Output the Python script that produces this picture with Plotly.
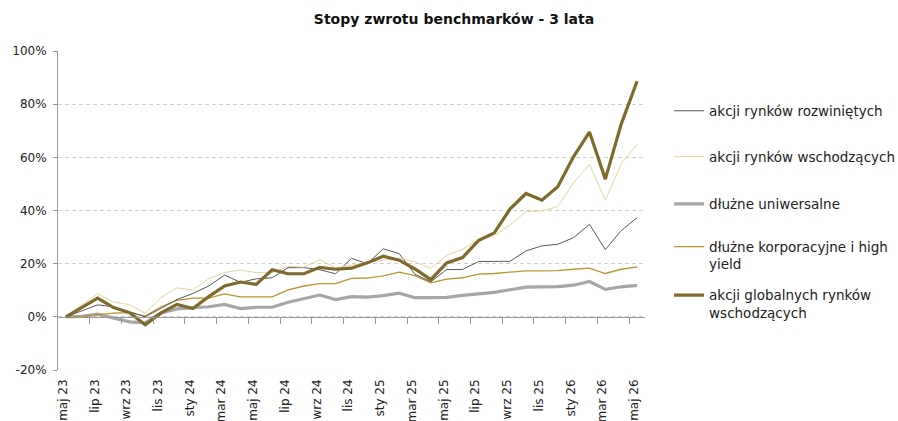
import plotly.graph_objects as go

months = ["maj 23", "cze 23", "lip 23", "sie 23", "wrz 23", "paź 23", "lis 23", "gru 23",
          "sty 24", "lut 24", "mar 24", "kwi 24", "maj 24", "cze 24", "lip 24", "sie 24",
          "wrz 24", "paź 24", "lis 24", "gru 24", "sty 25", "lut 25", "mar 25", "kwi 25",
          "maj 25", "cze 25", "lip 25", "sie 25", "wrz 25", "paź 25", "lis 25", "gru 25",
          "sty 26", "lut 26", "mar 26", "kwi 26", "maj 26"]

rozwiniete = [0, 2.2, 4.5, 3.8, 1.9, 0.0, 3.2, 6.5, 8.8, 11.6, 15.7, 13.0, 14.3, 14.7, 18.5, 18.5,
              17.7, 16.2, 22.0, 20.0, 25.6, 23.8, 16.0, 13.2, 17.8, 17.8, 20.8, 20.8, 20.9, 24.8,
              26.7, 27.3, 29.8, 34.8, 25.3, 32.4, 37.3]
wschodzace = [0, 4.5, 8.6, 5.6, 4.6, 1.4, 7.3, 10.9, 10.1, 14.3, 16.7, 17.6, 16.6, 16.6, 19.0, 18.7,
              21.5, 18.4, 19.5, 20.5, 21.3, 22.0, 20.7, 18.2, 23.2, 25.4, 29.0, 30.5, 34.6, 39.6,
              39.8, 41.5, 50.5, 57.3, 43.9, 57.5, 64.9]
uniwersalne = [0, 0.2, 1.0, -0.4, -1.9, -2.3, 1.5, 3.0, 3.5, 3.8, 4.7, 3.1, 3.6, 3.6, 5.5, 6.8,
               8.2, 6.5, 7.6, 7.4, 8.0, 8.9, 7.2, 7.2, 7.3, 8.1, 8.7, 9.2, 10.2, 11.2,
               11.3, 11.4, 11.9, 13.3, 10.3, 11.3, 11.8]
korporacyjne = [0, 0.0, 0.8, 1.4, 1.6, 0.3, 3.8, 6.2, 7.0, 7.0, 8.6, 7.5, 7.5, 7.5, 10.1, 11.6,
                12.5, 12.5, 14.5, 14.6, 15.4, 16.8, 15.5, 12.8, 14.2, 14.7, 16.1, 16.3, 16.8, 17.3,
                17.3, 17.4, 17.9, 18.3, 16.3, 17.9, 18.8]
globalne = [0, 3.5, 7.0, 3.5, 1.6, -3.0, 1.5, 4.7, 3.1, 7.6, 11.6, 13.1, 12.2, 17.7, 16.2, 16.2,
            18.6, 17.9, 18.3, 20.3, 22.8, 21.3, 18.0, 14.0, 20.3, 22.3, 28.7, 31.6, 40.6, 46.4,
            43.9, 48.9, 60.3, 69.5, 51.8, 72.5, 88.6]

names = ["akcji rynków rozwiniętych", "akcji rynków wschodzących", "dłużne uniwersalne",
         "dłużne korporacyjne i high<br>yield", "akcji globalnych rynków<br>wschodzących"]
series = [rozwiniete, wschodzace, uniwersalne, korporacyjne, globalne]
colors = ["#595959", "#E6D39F", "#A6A6A6", "#B8952F", "#7E6A2A"]
widths = [1, 1, 3.2, 1.3, 3.2]
legend_y = [0.812, 0.668, 0.520, 0.358, 0.206]

y_range = [-20, 100]
y_ticks = [-20, 0, 20, 40, 60, 80, 100]
x_label_idx = list(range(0, len(months), 2))
x_tick_marks = [i + 1.5 for i in range(0, len(months) - 1, 2)]

FONT = "DejaVu Sans"
fig = go.Figure()
draw_order = [2, 3, 0, 1, 4]
for k in draw_order:
    lg = "legend" if k == 0 else f"legend{k + 1}"
    fig.add_trace(go.Scatter(
        x=list(range(len(months))), y=series[k], name=names[k], mode="lines",
        line=dict(color=colors[k], width=widths[k]), legend=lg,
        hovertemplate="%{y:.1f}%<extra></extra>"))

legends = {}
for k in range(5):
    key = "legend" if k == 0 else f"legend{k + 1}"
    legends[key] = dict(x=1.041, y=legend_y[k], xanchor="left", yanchor="middle",
                        bgcolor="rgba(0,0,0,0)", borderwidth=0, valign="top",
                        font=dict(family=FONT, size=13.5, color="#222222"),
                        itemwidth=30, tracegroupgap=0)

fig.update_layout(
    width=898, height=421,
    margin=dict(l=58, r=253, t=51, b=51, autoexpand=False),
    paper_bgcolor="white", plot_bgcolor="white",
    font=dict(family=FONT, size=12, color="#222222"),
    title=dict(text="Stopy zwrotu benchmarków - 3 lata", x=454 / 898, xref="container",
               xanchor="center", y=0.955, yanchor="middle",
               font=dict(family=FONT, size=14, color="#111111", weight="bold")),
    showlegend=True,
    xaxis=dict(range=[-0.5, len(months) - 0.5], tickmode="array", tickvals=x_label_idx,
               ticktext=[months[i] for i in x_label_idx], tickangle=-90, automargin=False,
               showgrid=False, zeroline=False, showline=False, ticks="",
               ticklabelstandoff=6, ticklabelshift=-3, tickfont=dict(size=12, color="#222222")),
    xaxis2=dict(range=[-0.5, len(months) - 0.5], overlaying="x", anchor="free",
                position=(0 - y_range[0]) / (y_range[1] - y_range[0]), side="bottom",
                tickmode="array", tickvals=x_tick_marks, ticks="outside", ticklen=6,
                tickcolor="#999999", showticklabels=False, showgrid=False, zeroline=False,
                showline=True, linecolor="#999999", linewidth=1, automargin=False),
    yaxis=dict(range=y_range, tickmode="array", tickvals=y_ticks, automargin=False,
               ticktext=[f"{v}%" for v in y_ticks], showgrid=True, gridcolor="#CFCFCF",
               griddash="4px,3px", gridwidth=1, zeroline=False, showline=True,
               linecolor="#999999", linewidth=1, ticks="outside", ticklen=4,
               ticklabelstandoff=4,
               tickcolor="#999999", tickfont=dict(size=12, color="#222222")),
    **legends,
)
fig.add_trace(go.Scatter(x=[None], y=[None], xaxis="x2", showlegend=False, hoverinfo="skip"))

fig.write_html("out.html", config={"displayModeBar": False},
               post_script="document.body.style.margin='0';document.body.style.overflow='hidden';")
